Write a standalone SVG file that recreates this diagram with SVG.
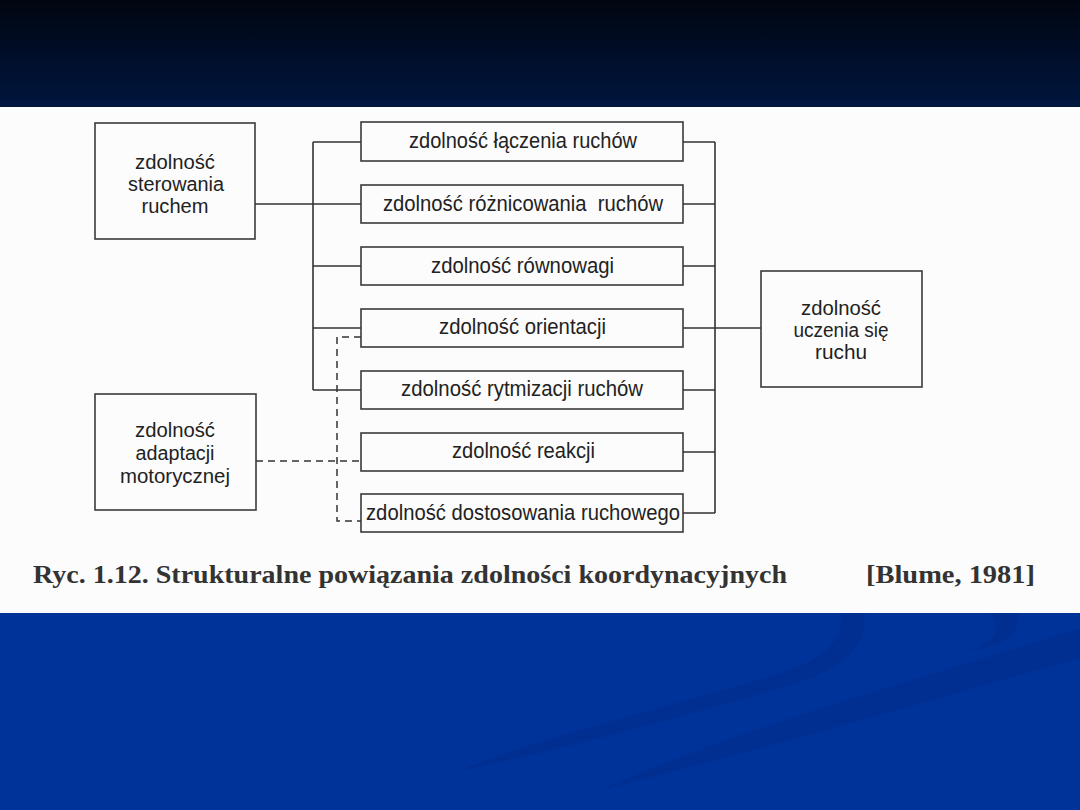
<svg xmlns="http://www.w3.org/2000/svg" width="1080" height="810" viewBox="0 0 1080 810">
<defs>
<linearGradient id="topg" x1="0" y1="0" x2="0" y2="1">
<stop offset="0" stop-color="#000510"/>
<stop offset="1" stop-color="#00163f"/>
</linearGradient>
<style>
.box{fill:none;stroke:#3a3a3a;stroke-width:1.6}
.ln{fill:none;stroke:#333;stroke-width:1.6}
.dash{fill:none;stroke:#333;stroke-width:1.5;stroke-dasharray:7 5}
.t{font-family:"Liberation Sans",Arial,sans-serif;font-size:20px;fill:#222;text-anchor:middle}
.tm{font-family:"Liberation Sans",Arial,sans-serif;font-size:22px;fill:#222;white-space:pre}
.cap{font-family:"Liberation Serif","Times New Roman",serif;font-size:25px;font-weight:bold;fill:#333}
.sw{fill:#002f91}
</style>
</defs>
<rect x="0" y="0" width="1080" height="107" fill="url(#topg)"/>
<rect x="0" y="107" width="1080" height="506" fill="#fcfcfc"/>
<rect x="0" y="613" width="1080" height="197" fill="#00339a"/>
<g id="swooshes">
<path class="sw" d="M455,772 C560,730 700,700 790,670 C830,655 845,635 840,613 L864,613 C868,640 850,665 800,682 C700,712 580,745 455,772 Z"/>
<path class="sw" d="M600,790 C760,720 920,680 1080,628 L1080,658 C930,700 780,745 600,790 Z"/>
<path class="sw" d="M967,652 C995,642 1003,630 990,613 L1018,613 C1022,632 1005,646 967,652 Z"/>
</g>
<g id="connectors">
<path class="ln" d="M313,142 V390"/>
<path class="ln" d="M313,142 H361 M313,204 H361 M313,266 H361 M313,328 H361 M313,390 H361"/>
<path class="ln" d="M255,204 H313"/>
<path class="ln" d="M715,142 V513"/>
<path class="ln" d="M683,142 H715 M683,204 H715 M683,266 H715 M683,328 H715 M683,390 H715 M683,452 H715 M683,513 H715"/>
<path class="ln" d="M715,328 H761"/>
<path class="dash" d="M256,461 H361"/>
<path class="dash" d="M361,337 H337 V521 H361"/>
</g>
<g id="n-sterowania">
<rect class="box" x="95" y="123" width="160" height="116"/>
<text class="t" x="175" y="169" textLength="80" lengthAdjust="spacingAndGlyphs">zdolność</text>
<text class="t" x="176" y="191" textLength="96" lengthAdjust="spacingAndGlyphs">sterowania</text>
<text class="t" x="175" y="213" textLength="67" lengthAdjust="spacingAndGlyphs">ruchem</text>
</g>
<g id="n-adaptacji">
<rect class="box" x="95" y="394" width="161" height="116"/>
<text class="t" x="175" y="437" textLength="80" lengthAdjust="spacingAndGlyphs">zdolność</text>
<text class="t" x="175" y="460" textLength="79" lengthAdjust="spacingAndGlyphs">adaptacji</text>
<text class="t" x="175" y="483" textLength="110" lengthAdjust="spacingAndGlyphs">motorycznej</text>
</g>
<g id="n-uczenia">
<rect class="box" x="761" y="271" width="161" height="116"/>
<text class="t" x="841" y="315" textLength="80" lengthAdjust="spacingAndGlyphs">zdolność</text>
<text class="t" x="841" y="337" textLength="95" lengthAdjust="spacingAndGlyphs">uczenia się</text>
<text class="t" x="841" y="359" textLength="52" lengthAdjust="spacingAndGlyphs">ruchu</text>
</g>
<g id="n-laczenia">
<rect class="box" x="361" y="122" width="322" height="39"/>
<text class="tm" x="409" y="148" textLength="228" lengthAdjust="spacingAndGlyphs">zdolność łączenia ruchów</text>
</g>
<g id="n-roznicowania">
<rect class="box" x="361" y="185" width="322" height="38"/>
<text class="tm" x="383" y="211" textLength="280" lengthAdjust="spacingAndGlyphs">zdolność różnicowania  ruchów</text>
</g>
<g id="n-rownowagi">
<rect class="box" x="361" y="247" width="322" height="38"/>
<text class="tm" x="431" y="273" textLength="183" lengthAdjust="spacingAndGlyphs">zdolność równowagi</text>
</g>
<g id="n-orientacji">
<rect class="box" x="361" y="309" width="322" height="38"/>
<text class="tm" x="439" y="334" textLength="167" lengthAdjust="spacingAndGlyphs">zdolność orientacji</text>
</g>
<g id="n-rytmizacji">
<rect class="box" x="361" y="371" width="322" height="38"/>
<text class="tm" x="401" y="396" textLength="242" lengthAdjust="spacingAndGlyphs">zdolność rytmizacji ruchów</text>
</g>
<g id="n-reakcji">
<rect class="box" x="361" y="433" width="322" height="38"/>
<text class="tm" x="452" y="458" textLength="143" lengthAdjust="spacingAndGlyphs">zdolność reakcji</text>
</g>
<g id="n-dostosowania">
<rect class="box" x="361" y="494" width="322" height="38"/>
<text class="tm" x="366" y="520" textLength="314" lengthAdjust="spacingAndGlyphs">zdolność dostosowania ruchowego</text>
</g>
<g id="caption">
<text class="cap" x="33" y="583" textLength="754" lengthAdjust="spacingAndGlyphs">Ryc. 1.12. Strukturalne powiązania zdolności koordynacyjnych</text>
<text class="cap" x="866" y="583" textLength="169" lengthAdjust="spacingAndGlyphs">[Blume, 1981]</text>
</g>
</svg>
